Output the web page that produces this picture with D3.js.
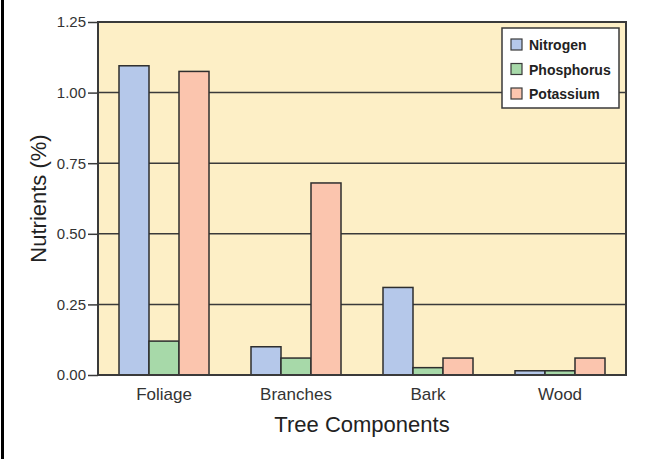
<!DOCTYPE html>
<html><head><meta charset="utf-8">
<script src="https://cdn.jsdelivr.net/npm/d3@7"></script>
<style>body{margin:0;background:#fff}svg{display:block}</style>
</head><body>
<svg id="c" width="648" height="459"></svg>
<script>
const categories = ["Foliage", "Branches", "Bark", "Wood"];
const seriesNames = ["Nitrogen", "Phosphorus", "Potassium"];
const nitrogen = [1.095, 0.10, 0.31, 0.015];
const phosphorus = [0.12, 0.06, 0.026, 0.015];
const potassium = [1.075, 0.68, 0.06, 0.06];
const yTicks = [0, 0.25, 0.5, 0.75, 1.0, 1.25];
const colors = ["#b5c8ea", "#a7d9a9", "#fbc5ae"];
const seriesValues = [nitrogen, phosphorus, potassium];

const svg = d3.select("#c");
const font = "'Liberation Sans', Arial, Helvetica, sans-serif";
const pL = 98, pR = 626, pT = 22, pB = 375;

// left page border
svg.append("rect").attr("x", 1).attr("y", 0).attr("width", 3).attr("height", 459).attr("fill", "#000");

const x = d3.scaleBand().domain(categories).range([pL, pR]).paddingInner(0).paddingOuter(0);
const xs = d3.scaleBand().domain(seriesNames).range([0, 90]);
const y = d3.scaleLinear().domain([0, 1.25]).range([pB, pT]);

svg.append("rect").attr("x", pL).attr("y", pT).attr("width", pR - pL).attr("height", pB - pT)
  .attr("fill", "#fdefc6");

// gridlines
svg.append("g").selectAll("line").data(yTicks.slice(1, -1)).join("line")
  .attr("x1", pL).attr("x2", pR).attr("y1", d => y(d)).attr("y2", d => y(d))
  .attr("stroke", "#3a3a3a").attr("stroke-width", 1.5);

// bars
const groups = svg.append("g").selectAll("g").data(categories).join("g")
  .attr("transform", c => `translate(${x(c) + (x.bandwidth() - 90) / 2},0)`);
groups.selectAll("rect").data((c, i) => seriesNames.map((s, j) => ({s, j, v: seriesValues[j][i]}))).join("rect")
  .attr("x", d => xs(d.s)).attr("width", xs.bandwidth())
  .attr("y", d => y(d.v)).attr("height", d => pB - y(d.v))
  .attr("fill", d => colors[d.j]).attr("stroke", "#2e2e2e").attr("stroke-width", 1.5);

// frame
svg.append("rect").attr("x", pL).attr("y", pT).attr("width", pR - pL).attr("height", pB - pT)
  .attr("fill", "none").attr("stroke", "#3a3a3a").attr("stroke-width", 2);

// y axis
const yAxis = d3.axisLeft(y).tickValues(yTicks).tickFormat(d3.format(".2f")).tickSize(10).tickPadding(2);
const ya = svg.append("g").attr("transform", `translate(${pL},0)`).call(yAxis);
ya.select(".domain").remove();
ya.selectAll(".tick line").attr("stroke", "#3a3a3a").attr("stroke-width", 1.5);
ya.selectAll(".tick text").attr("font-family", font).attr("font-size", 15).attr("fill", "#333");

// x axis
const xAxis = d3.axisBottom(x).tickSize(0).tickPadding(13);
const xa = svg.append("g").attr("transform", `translate(0,${pB})`).call(xAxis);
xa.select(".domain").remove();
xa.selectAll(".tick text").attr("font-family", font).attr("font-size", 17).attr("fill", "#333");

svg.append("text").attr("x", (pL + pR) / 2).attr("y", 432).attr("text-anchor", "middle")
  .attr("font-family", font).attr("font-size", 22).attr("fill", "#222").text("Tree Components");
svg.append("text").attr("transform", `translate(46,${(pT + pB) / 2}) rotate(-90)`).attr("text-anchor", "middle")
  .attr("font-family", font).attr("font-size", 22).attr("fill", "#222").text("Nutrients (%)");

// legend
const lg = svg.append("g").attr("transform", "translate(502,28)");
lg.append("rect").attr("width", 117).attr("height", 80).attr("fill", "#fff").attr("stroke", "#3a3a3a").attr("stroke-width", 1.5);
seriesNames.forEach((s, i) => {
  const row = lg.append("g").attr("transform", `translate(9,${11 + i * 24.5})`);
  row.append("rect").attr("width", 11).attr("height", 11).attr("fill", colors[i]).attr("stroke", "#3a3a3a").attr("stroke-width", 1.2);
  row.append("text").attr("x", 18).attr("y", 11).attr("font-family", font).attr("font-weight", "bold")
    .attr("font-size", 14).attr("fill", "#222").text(s);
});
</script>
</body></html>
